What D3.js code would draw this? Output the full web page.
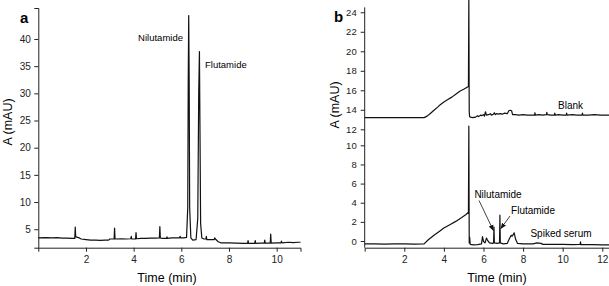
<!DOCTYPE html>
<html>
<head>
<meta charset="utf-8">
<script src="https://d3js.org/d3.v7.min.js"></script>
<style>
  body { margin: 0; background: #fff; }
  svg { display: block; font-family: "Liberation Sans", Arial, sans-serif; }
  .tick text { fill: #222; }
  .tick line, .domain, .axisline { stroke: #222; }
</style>
</head>
<body>
<script>
const width = 609;
const height = 286;

// panel a: standard solution (time in min, absorbance in mAU)
const aTrace = [[0.0,3.4],[0.3,3.45],[0.6,3.4],[0.8,3.45],[1.0,3.35],[1.2,3.35],[1.4,3.3],[1.53,3.3],[1.55,5.4],[1.57,3.6],[1.65,3.5],[1.72,3.4],[1.8,3.2],[2.0,3.1],[2.2,3.0],[2.4,3.0],[2.6,2.95],[2.8,3.0],[2.95,3.0],[3.0,3.2],[3.18,3.2],[3.2,5.2],[3.22,3.2],[3.5,3.25],[3.7,3.2],[3.88,3.25],[3.9,3.7],[3.92,3.2],[4.08,3.2],[4.1,4.4],[4.12,3.25],[4.3,3.3],[4.5,3.3],[4.7,3.35],[4.9,3.35],[5.08,3.4],[5.1,5.5],[5.12,3.4],[5.2,3.3],[5.38,3.3],[5.4,3.6],[5.42,3.3],[5.6,3.4],[5.8,3.4],[5.93,3.4],[5.95,3.7],[5.97,3.4],[6.1,3.4],[6.22,3.5],[6.27,9],[6.29,32],[6.31,44.3],[6.33,32],[6.35,9],[6.4,3.4],[6.48,3.0],[6.62,3.1],[6.69,7],[6.73,30],[6.76,37.7],[6.78,25],[6.81,6],[6.86,3.4],[6.95,3.2],[7.03,3.2],[7.05,3.7],[7.07,3.1],[7.2,3.1],[7.38,3.1],[7.4,3.4],[7.45,3.1],[7.55,2.7],[7.65,2.5],[8.0,2.5],[8.3,2.45],[8.6,2.4],[8.78,2.4],[8.8,2.9],[8.82,2.4],[9.08,2.4],[9.1,2.9],[9.12,2.4],[9.3,2.45],[9.48,2.45],[9.5,3.0],[9.52,2.45],[9.73,2.45],[9.75,4.1],[9.77,2.45],[10.0,2.5],[10.18,2.5],[10.2,2.8],[10.22,2.5],[10.5,2.6],[10.7,2.55],[10.9,2.6],[11.0,2.6]];

// panel b: blank serum (upper scale) and spiked serum (lower scale)
const blankTrace = [[0,13.2],[0.5,13.2],[1,13.2],[1.5,13.2],[2,13.2],[2.5,13.2],[3.0,13.2],[3.15,13.35],[3.3,13.6],[3.5,13.95],[3.7,14.3],[3.8,14.5],[4.0,14.8],[4.2,15.05],[4.4,15.3],[4.6,15.6],[4.8,15.9],[5.0,16.1],[5.24,16.4],[5.26,25.6],[5.28,13.8],[5.3,13.3],[5.34,13.25],[5.45,13.2],[5.6,13.25],[5.7,13.4],[5.75,13.3],[5.85,13.45],[5.9,13.4],[6.0,13.5],[6.05,13.35],[6.1,13.8],[6.15,13.45],[6.25,13.5],[6.35,13.6],[6.4,13.45],[6.5,13.55],[6.55,13.7],[6.6,13.5],[6.65,13.6],[6.75,13.55],[6.85,13.6],[6.95,13.55],[7.05,13.65],[7.2,13.6],[7.28,13.9],[7.35,13.95],[7.42,13.9],[7.47,13.5],[7.6,13.5],[7.8,13.45],[8.0,13.5],[8.2,13.45],[8.4,13.45],[8.58,13.45],[8.6,13.7],[8.62,13.45],[8.8,13.5],[9.0,13.45],[9.18,13.5],[9.2,13.75],[9.22,13.5],[9.4,13.45],[9.58,13.45],[9.6,13.65],[9.62,13.45],[9.8,13.5],[10.0,13.45],[10.18,13.45],[10.2,13.65],[10.22,13.45],[10.5,13.5],[10.7,13.45],[10.98,13.45],[11.0,13.65],[11.02,13.45],[11.3,13.45],[11.6,13.5],[11.9,13.45],[12.35,13.45]];
const serumTrace = [[0,-0.3],[0.5,-0.3],[1,-0.32],[1.5,-0.3],[2,-0.3],[2.5,-0.32],[3.0,-0.3],[3.2,0.1],[3.5,0.6],[3.8,1.05],[4.0,1.35],[4.3,1.7],[4.6,2.05],[4.9,2.45],[5.1,2.75],[5.24,3.0],[5.26,12.0],[5.28,-0.2],[5.3,0.4],[5.33,-0.35],[5.5,-0.4],[5.7,-0.38],[5.9,-0.3],[5.95,0.45],[6.0,-0.05],[6.08,-0.2],[6.15,0.3],[6.2,0.1],[6.3,-0.2],[6.45,-0.25],[6.51,-0.2],[6.53,1.45],[6.55,-0.2],[6.7,-0.25],[6.81,-0.2],[6.83,2.7],[6.85,-0.2],[7.0,-0.3],[7.2,-0.25],[7.3,0.2],[7.4,0.6],[7.45,0.5],[7.55,0.85],[7.62,0.2],[7.72,-0.25],[8.0,-0.3],[8.5,-0.3],[8.7,-0.2],[8.9,-0.25],[9.0,-0.35],[9.5,-0.35],[10.0,-0.35],[10.5,-0.38],[10.88,-0.35],[10.9,-0.1],[10.92,-0.38],[11.5,-0.38],[12.0,-0.4],[12.35,-0.4]];

// tick values
const aXTicks = [2, 4, 6, 8, 10];
const aYTicks = [5, 10, 15, 20, 25, 30, 35, 40];
const bXTicks = [2, 4, 6, 8, 10, 12];
const bUpperTicks = [12, 14, 16, 18, 20, 22, 24];
const bLowerTicks = [0, 2, 4, 6, 8, 10];

var svg;
var xA, yA, xB, yBup, yBlo;

function generateScales() {
    xA = d3.scaleLinear().domain([0, 11]).range([38.3, 300.5]);
    yA = d3.scaleLinear().domain([1.6, 45.7]).range([247.7, 8]);
    xB = d3.scaleLinear().domain([0, 12.35]).range([364.7, 609.2]);
    yBup = d3.scaleLinear().domain([12, 24.5]).range([129.3, 7.4]);
    yBlo = d3.scaleLinear().domain([-0.7, 10]).range([247.7, 145.3]);
}

function styleAxis(g, size) {
    g.selectAll("text").style("font-size", size + "px");
    g.selectAll("line, path").attr("stroke-width", 1);
}

function generateAxes() {
    // panel a
    var gx = svg.append("g")
        .attr("transform", "translate(0," + yA.range()[0] + ")")
        .call(d3.axisBottom(xA).tickValues(aXTicks).tickSizeOuter(0).tickSize(4).tickPadding(4.5));
    styleAxis(gx, 10);
    var gy = svg.append("g")
        .attr("transform", "translate(" + xA.range()[0] + ",0)")
        .call(d3.axisLeft(yA).tickValues(aYTicks).tickSizeOuter(0).tickSize(4).tickPadding(3.5));
    styleAxis(gy, 10);

    // panel b
    var gbx = svg.append("g")
        .attr("transform", "translate(0," + yBlo.range()[0] + ")")
        .call(d3.axisBottom(xB).tickValues(bXTicks).tickSizeOuter(0).tickSize(4).tickPadding(4.5));
    styleAxis(gbx, 10);
    var gbu = svg.append("g")
        .attr("transform", "translate(" + xB.range()[0] + ",0)")
        .call(d3.axisLeft(yBup).tickValues(bUpperTicks).tickSizeOuter(0).tickSize(4).tickPadding(4));
    gbu.select(".domain").remove();
    styleAxis(gbu, 9.5);
    var gbl = svg.append("g")
        .attr("transform", "translate(" + xB.range()[0] + ",0)")
        .call(d3.axisLeft(yBlo).tickValues(bLowerTicks).tickSizeOuter(0).tickSize(4).tickPadding(4));
    gbl.select(".domain").remove();
    styleAxis(gbl, 9.5);
    // one continuous y axis line for both traces
    svg.append("line")
        .attr("class", "axisline")
        .attr("x1", xB.range()[0]).attr("x2", xB.range()[0])
        .attr("y1", yBup.range()[1]).attr("y2", yBlo.range()[0])
        .attr("stroke-width", 1);

    // axis titles
    svg.append("text")
        .attr("x", 167).attr("y", 282)
        .attr("text-anchor", "middle")
        .style("font-size", "12.5px")
        .text("Time (min)");
    svg.append("text")
        .attr("x", 497).attr("y", 282)
        .attr("text-anchor", "middle")
        .style("font-size", "12.5px")
        .text("Time (min)");
    svg.append("text")
        .attr("transform", "translate(12,122) rotate(-90)")
        .attr("text-anchor", "middle")
        .style("font-size", "12.5px")
        .text("A (mAU)");
    svg.append("text")
        .attr("transform", "translate(339,105) rotate(-90)")
        .attr("text-anchor", "middle")
        .style("font-size", "12.5px")
        .text("A (mAU)");

    // panel letters
    svg.append("text")
        .attr("x", 20).attr("y", 23)
        .style("font-size", "15px").style("font-weight", "bold")
        .text("a");
    svg.append("text")
        .attr("x", 334).attr("y", 22)
        .style("font-size", "15px").style("font-weight", "bold")
        .text("b");
}

function drawTrace(data, x, y) {
    var line = d3.line()
        .x(function (d) { return x(d[0]); })
        .y(function (d) { return y(d[1]); });
    svg.append("path")
        .datum(data)
        .attr("d", line)
        .attr("fill", "none")
        .attr("stroke", "#111")
        .attr("stroke-width", 1.2)
        .attr("stroke-linejoin", "round");
}

function generateLabels() {
    svg.append("text").attr("x", 183).attr("y", 40.5)
        .attr("text-anchor", "end").style("font-size", "9.5px").text("Nilutamide");
    svg.append("text").attr("x", 205).attr("y", 68.3)
        .style("font-size", "9.5px").text("Flutamide");

    svg.append("text").attr("x", 570.5).attr("y", 108.5)
        .attr("text-anchor", "middle").style("font-size", "10px").text("Blank");
    svg.append("text").attr("x", 498).attr("y", 198)
        .attr("text-anchor", "middle").style("font-size", "10px").text("Nilutamide");
    svg.append("text").attr("x", 533).attr("y", 214)
        .attr("text-anchor", "middle").style("font-size", "10px").text("Flutamide");
    svg.append("text").attr("x", 561).attr("y", 237)
        .attr("text-anchor", "middle").style("font-size", "10px").text("Spiked serum");

    // arrows pointing to the peaks in the spiked serum trace
    svg.append("defs").append("marker")
        .attr("id", "head")
        .attr("viewBox", "0 0 10 10")
        .attr("refX", 9).attr("refY", 5)
        .attr("markerWidth", 6).attr("markerHeight", 6)
        .attr("markerUnits", "userSpaceOnUse")
        .attr("orient", "auto")
        .append("path")
        .attr("d", "M0,1 L10,5 L0,9 Z")
        .attr("fill", "#111");
    svg.append("line")
        .attr("x1", 479).attr("y1", 200.5)
        .attr("x2", xB(6.5)).attr("y2", yBlo(1.1))
        .attr("stroke", "#111").attr("stroke-width", 0.8)
        .attr("marker-end", "url(#head)");
    svg.append("line")
        .attr("x1", 510).attr("y1", 216)
        .attr("x2", xB(6.88)).attr("y2", yBlo(1.3))
        .attr("stroke", "#111").attr("stroke-width", 0.8)
        .attr("marker-end", "url(#head)");
}

document.addEventListener("DOMContentLoaded", function () {
    svg = d3.select("body")
        .append("svg")
        .attr("width", width)
        .attr("height", height);

    generateScales();
    generateAxes();
    drawTrace(aTrace, xA, yA);
    drawTrace(blankTrace, xB, yBup);
    drawTrace(serumTrace, xB, yBlo);
    generateLabels();
});
</script>
</body>
</html>
